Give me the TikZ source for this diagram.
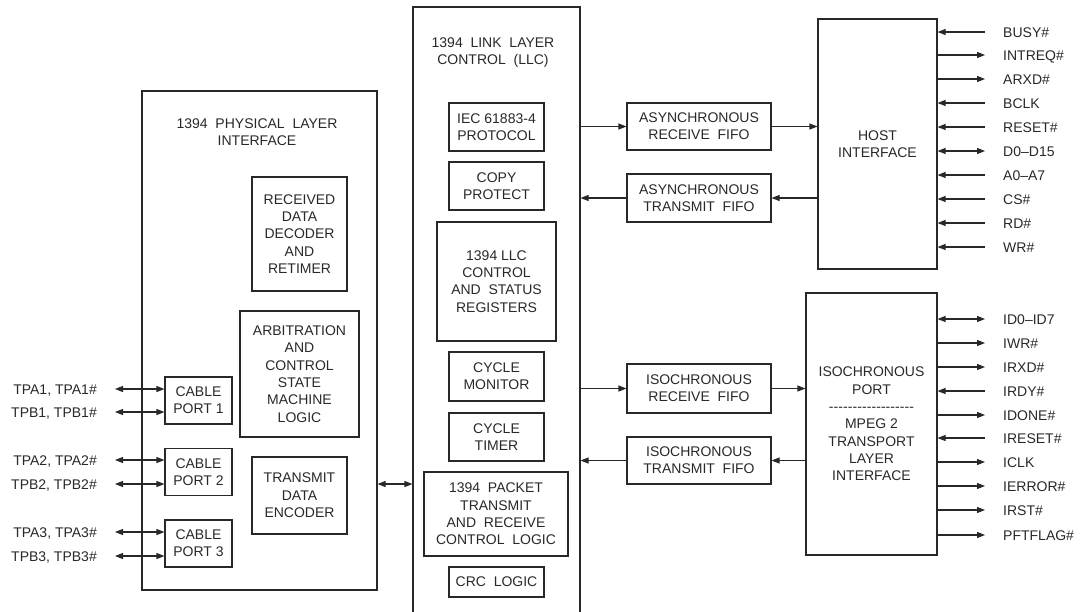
\documentclass[tikz,border=0pt]{standalone}
\usepackage{fontspec}
\setmainfont{Liberation Sans}
\usetikzlibrary{arrows.meta}
\definecolor{inkgray}{RGB}{40,40,40}

\begin{document}
\begin{tikzpicture}[x=0.75pt,y=-0.75pt,line width=0.8pt,draw=inkgray,
  every node/.style={font=\fontsize{10.5}{13}\selectfont,text=inkgray},
  blk/.style={draw=inkgray,line width=0.8pt,align=center,inner sep=0pt},
  ttl/.style={align=center,inner sep=0pt},
  sig/.style={text height=7.5pt,text depth=0pt,inner sep=2pt},
  sigout/.style={-{Triangle[length=6pt,width=4.5pt]}},
  sigin/.style={{Triangle[length=6pt,width=4.5pt]}-},
  sigboth/.style={{Triangle[length=6pt,width=4.5pt]}-{Triangle[length=6pt,width=4.5pt]}}]
  \useasboundingbox (0,0) rectangle (1080,611);

  % Physical layer
  \node[blk,minimum width=176.25pt,minimum height=374.25pt] (phys) at (259.5,340.5) {};
  \node[ttl] (physttl) at (257,132.5) {1394~~PHYSICAL~~LAYER\\INTERFACE};
  \node[blk,minimum width=71.25pt,minimum height=85.5pt] (rxdec) at (299.5,234) {RECEIVED\\DATA\\DECODER\\AND\\RETIMER};
  \node[blk,minimum width=89.25pt,minimum height=94.5pt] (arb) at (299.5,374) {ARBITRATION\\AND\\CONTROL\\STATE\\MACHINE\\LOGIC};
  \node[blk,minimum width=71.25pt,minimum height=57.75pt] (txenc) at (299.5,495.5) {TRANSMIT\\DATA\\ENCODER};
  \node[blk,minimum width=50.25pt,minimum height=35.25pt] (port1) at (198.5,400.5) {CABLE\\PORT 1};
  \node[blk,minimum width=50.25pt,minimum height=35.25pt] (port2) at (198.5,472) {CABLE\\PORT 2};
  \node[blk,minimum width=50.25pt,minimum height=35.25pt] (port3) at (198.5,543.5) {CABLE\\PORT 3};

  % Cable signals
  \foreach \y/\lbl/\p [count=\i] in {389/{TPA1, TPA1\#}/1, 412/{TPB1, TPB1\#}/1,
      460/{TPA2, TPA2\#}/2, 484/{TPB2, TPB2\#}/2,
      532/{TPA3, TPA3\#}/3, 556/{TPB3, TPB3\#}/3}{
    \node[sig,anchor=east] (tp\i) at (100,\y) {\lbl};
    \draw[sigboth] ([xshift=11.25pt]tp\i.east) -- (port\p.west |- tp\i);
  }

  % Link layer controller
  \node[blk,minimum width=125.25pt,minimum height=456pt] (llc) at (496.5,311) {};
  \node[ttl] (llcttl) at (493,52.5) {1394~~LINK~~LAYER\\CONTROL~~(LLC)};
  \node[blk,minimum width=71.25pt,minimum height=36pt] (iec) at (496.5,127) {IEC 61883-4\\PROTOCOL};
  \node[blk,minimum width=71.25pt,minimum height=36pt] (copy) at (496.5,186) {COPY\\PROTECT};
  \node[blk,minimum width=89.25pt,minimum height=89.25pt] (regs) at (496.5,281.5) {1394 LLC\\CONTROL\\AND~~STATUS\\REGISTERS};
  \node[blk,minimum width=71.25pt,minimum height=36.75pt] (cycmon) at (496.5,376.5) {CYCLE\\MONITOR};
  \node[blk,minimum width=71.25pt,minimum height=36pt] (cyctim) at (496.5,437) {CYCLE\\TIMER};
  \node[blk,minimum width=108pt,minimum height=63pt] (pkt) at (496,514) {1394~~PACKET\\TRANSMIT\\AND~~RECEIVE\\CONTROL~~LOGIC};
  \node[blk,minimum width=71.25pt,minimum height=22.5pt] (crc) at (496.5,582) {CRC~~LOGIC};

  \coordinate (link) at (395,484);
  \draw[sigboth] (phys.east |- link) -- (llc.west |- link);

  % FIFOs
  \node[blk,minimum width=108pt,minimum height=35.25pt] (arx) at (699,126.5) {ASYNCHRONOUS\\RECEIVE~~FIFO};
  \node[blk,minimum width=108pt,minimum height=36pt] (atx) at (699,198) {ASYNCHRONOUS\\TRANSMIT~~FIFO};
  \node[blk,minimum width=108pt,minimum height=36.75pt] (irx) at (699,388.5) {ISOCHRONOUS\\RECEIVE~~FIFO};
  \node[blk,minimum width=108pt,minimum height=35.25pt] (itx) at (699,460.5) {ISOCHRONOUS\\TRANSMIT~~FIFO};

  % Host interface and isochronous port
  \node[blk,minimum width=89.25pt,minimum height=187.5pt] (host) at (877.5,144) {HOST\\INTERFACE};
  \node[blk,minimum width=98.25pt,minimum height=196.5pt] (isoport) at (871.5,424)
    {ISOCHRONOUS\\PORT\\\hbox to 64pt{\xleaders\hbox{-}\hfill}\\MPEG 2\\TRANSPORT\\LAYER\\INTERFACE};

  \draw[sigout] (llc.east |- arx.west) -- (arx.west);
  \draw[sigout] (arx.east) -- (host.west |- arx.east);
  \draw[sigout] (host.west |- atx.east) -- (atx.east);
  \draw[sigout] (atx.west) -- (llc.east |- atx.west);
  \draw[sigout] (llc.east |- irx.west) -- (irx.west);
  \draw[sigout] (irx.east) -- (isoport.west |- irx.east);
  \draw[sigout] (isoport.west |- itx.east) -- (itx.east);
  \draw[sigout] (itx.west) -- (llc.east |- itx.west);

  % Host signals
  \foreach \y/\lbl/\dir [count=\i] in {32/BUSY\#/sigin, 55/INTREQ\#/sigout, 79/ARXD\#/sigout,
      103/BCLK/sigin, 127/RESET\#/sigin, 151/D0--D15/sigboth, 175/A0--A7/sigin,
      199/CS\#/sigin, 223/RD\#/sigin, 247/WR\#/sigin}{
    \node[sig,anchor=west] (hs\i) at (1000,\y) {\lbl};
    \draw[\dir] (host.east |- hs\i) -- ([xshift=-11.25pt]hs\i.west);
  }

  % Isochronous port signals
  \foreach \y/\lbl/\dir [count=\i] in {319/ID0--ID7/sigboth, 343/IWR\#/sigout, 367/IRXD\#/sigout,
      391/IRDY\#/sigin, 415/IDONE\#/sigout, 438/IRESET\#/sigin, 462/ICLK/sigout,
      486/IERROR\#/sigout, 510/IRST\#/sigout, 535/PFTFLAG\#/sigout}{
    \node[sig,anchor=west] (is\i) at (1000,\y) {\lbl};
    \draw[\dir] (isoport.east |- is\i) -- ([xshift=-11.25pt]is\i.west);
  }
\end{tikzpicture}
\end{document}
